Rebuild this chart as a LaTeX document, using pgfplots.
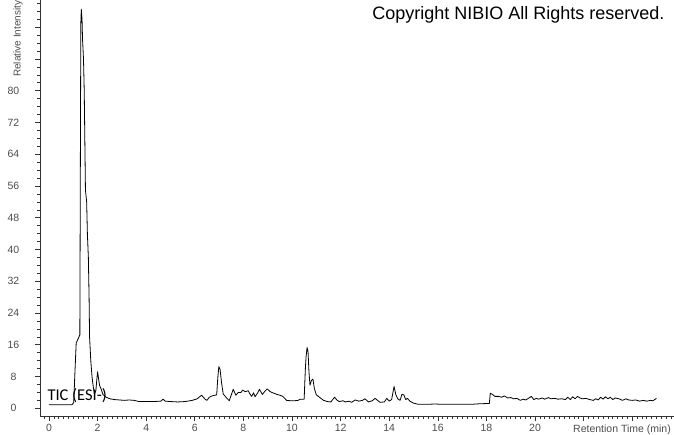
\documentclass[border=0pt]{standalone}
\usepackage{fontspec}
\setmainfont{Liberation Sans}
\newfontfamily\calfont{Carlito}
\usepackage{pgfplots}
\pgfplotsset{compat=1.18}
\pgfplotstableread{
t v
0.00 0.9
0.95 0.9
1.02 1.5
1.06 8.0
1.12 16.5
1.20 17.5
1.27 18.5
1.29 60.0
1.31 97.0
1.33 100.5
1.36 98.0
1.38 93.0
1.42 88.0
1.45 80.0
1.48 65.0
1.50 55.0
1.55 52.0
1.58 44.0
1.62 38.0
1.65 28.0
1.67 18.0
1.72 12.0
1.77 8.0
1.82 5.5
1.87 3.5
1.93 4.5
1.98 8.0
2.00 9.2
2.04 7.5
2.08 5.8
2.15 4.8
2.22 3.5
2.35 2.8
2.50 2.4
2.70 2.2
2.90 2.1
3.10 2.0
3.30 2.1
3.50 2.0
3.70 1.7
4.00 1.7
4.30 1.7
4.60 1.8
4.70 2.3
4.78 1.8
5.00 1.7
5.30 1.6
5.60 1.7
5.90 2.0
6.10 2.4
6.28 3.3
6.42 2.3
6.50 2.0
6.60 2.8
6.70 3.1
6.90 3.4
6.95 8.0
6.99 10.5
7.04 9.8
7.10 6.5
7.17 3.6
7.31 2.6
7.42 1.9
7.58 4.8
7.69 3.3
7.79 4.0
7.90 4.0
7.97 4.6
8.07 4.2
8.20 4.4
8.27 3.6
8.34 3.0
8.42 3.9
8.48 2.9
8.60 4.0
8.66 4.8
8.78 3.5
8.90 4.4
8.98 4.9
9.10 4.2
9.25 3.8
9.38 3.5
9.50 3.3
9.62 3.0
9.78 2.0
9.95 1.9
10.10 1.9
10.25 2.0
10.35 2.3
10.50 2.3
10.55 10.0
10.58 13.0
10.62 15.3
10.66 14.3
10.70 9.0
10.74 5.8
10.80 7.0
10.86 7.4
10.92 5.0
11.00 3.4
11.17 2.6
11.30 2.0
11.45 1.7
11.60 1.6
11.75 2.8
11.86 2.0
11.95 1.7
12.10 1.9
12.20 1.6
12.35 1.8
12.45 1.5
12.60 2.1
12.75 1.8
12.90 2.0
13.00 2.4
13.15 1.6
13.30 1.9
13.42 2.5
13.50 2.1
13.62 1.5
13.80 1.6
13.90 2.5
14.00 1.8
14.10 2.2
14.20 5.5
14.27 3.5
14.35 2.4
14.45 2.0
14.52 3.5
14.60 3.4
14.68 2.2
14.75 2.5
14.85 1.8
15.00 1.3
15.20 1.0
15.60 1.0
15.90 1.1
16.10 1.0
16.50 1.0
17.00 1.0
17.40 1.0
17.60 1.1
18.00 1.2
18.12 1.2
18.16 3.8
18.25 3.5
18.35 3.0
18.50 3.0
18.62 2.8
18.75 3.1
18.87 2.6
19.00 2.7
19.12 2.4
19.25 2.5
19.40 2.0
19.50 2.3
19.62 2.1
19.75 2.6
19.85 3.0
19.95 2.2
20.05 2.5
20.15 2.3
20.30 2.6
20.40 2.3
20.55 2.7
20.65 2.4
20.80 2.5
20.95 2.3
21.10 2.4
21.25 2.2
21.35 2.8
21.45 2.2
21.55 2.9
21.65 2.4
21.75 3.0
21.85 2.6
21.95 2.4
22.10 2.5
22.25 2.2
22.40 2.0
22.50 2.4
22.60 2.1
22.70 2.8
22.80 2.3
22.90 2.9
23.00 2.4
23.10 2.8
23.20 2.2
23.30 2.6
23.45 2.4
23.60 2.0
23.75 2.4
23.85 2.1
24.00 2.0
24.15 2.1
24.30 1.8
24.45 2.0
24.60 1.8
24.75 2.0
24.85 1.9
25.00 2.5
}\tic
\begin{document}
\begin{tikzpicture}
\begin{axis}[
  at={(0pt,0pt)}, anchor=south west,
  scale only axis, width=634pt, height=416pt,
  xmin=-0.37, xmax=25.72, ymin=-1.94, ymax=102.85,
  axis lines=left,
  axis line style={-, black!80, line width=0.7pt},
  tick align=outside,
  xtick={0,2,...,24},
  xticklabels={0,2,4,6,8,10,12,14,16,18,20,,},
  minor xtick={-0.2,0,...,25.6},
  ytick={0,8,...,96},
  yticklabels={0,8,16,24,32,40,48,56,64,72,80,,},
  minor ytick={0,2,...,102},
  major tick length=5pt, minor tick length=3pt,
  every tick/.style={black!80, line width=0.6pt},
  ticklabel style={font=\fontsize{10.5}{12}\selectfont, text=black!70},
  /pgf/number format/assume math mode=true,
  yticklabel style={anchor=center, xshift=-21.5pt},
  xticklabel style={anchor=north},
  clip=false,
]
\addplot[black, line width=0.8pt, line join=round, mark=none] table[x=t, y=v] {\tic};
\end{axis}
\node[anchor=base east, font=\fontsize{18}{20}\selectfont, text=black] at (628pt,396pt) {Copyright NIBIO All Rights reserved.};
\node[anchor=base west, inner sep=0pt, font=\calfont\fontsize{16.5}{18}\selectfont] at (7.3pt,16pt) {TIC (ESI-)};
\node[anchor=base east, inner sep=0pt, font=\fontsize{10.5}{12}\selectfont, text=black!70] at (631pt,-16pt) {Retention Time (min)};
\node[rotate=90, anchor=base west, inner sep=0pt, font=\fontsize{10}{12}\selectfont, text=black!70] at (-19.3pt,339pt) {Relative Intensity};
\pgfresetboundingbox
\path[use as bounding box] (-40pt,-18pt) rectangle (634pt,416pt);
\end{tikzpicture}
\end{document}
